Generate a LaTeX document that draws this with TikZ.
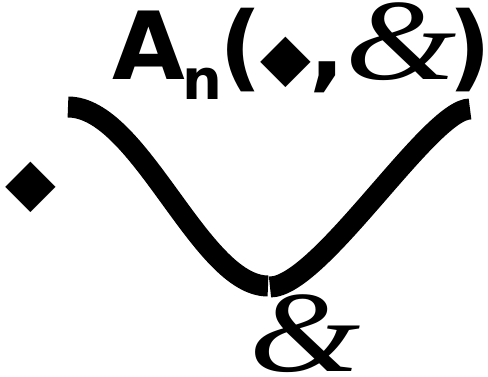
\documentclass[tikz,border=0pt]{standalone}
\usepackage{fontspec}
\newfontfamily\titlefont{DejaVu Sans}
\newfontfamily\ampfont{Liberation Serif}
\usetikzlibrary{positioning}

\newcommand{\diam}[1]{{\titlefont\mdseries\fontsize{#1}{#1}\selectfont ◆}}
\newcommand{\amp}[1]{\scalebox{1.3}[1.05]{\ampfont\mdseries\itshape\fontsize{#1}{#1}\selectfont \&}}

\tikzset{
  cup/.style={line width=21pt, line cap=butt},
  lbl/.style={inner sep=0pt, outer sep=0pt},
}

\begin{document}
\begin{tikzpicture}[x=1pt,y=-1pt]
\useasboundingbox (0,0) rectangle (488,377);

% labels
\node[lbl, anchor=base west] (title) at (112,80)
  {\titlefont\fontsize{94}{100}\selectfont\bfseries A\kern-2pt\raisebox{-20pt}{\fontsize{56}{56}\selectfont n}\kern-3pt(\kern-2pt\diam{66}\kern-2pt,\amp{110}\kern-8pt)};
\node[lbl] (left) at (31,187) {\diam{66}};
\node[lbl, anchor=north] (bottom) at (305,295) {\amp{110}};

% the cup
\coordinate (cupL) at (68,107);
\coordinate (cupML) at (268,286);
\coordinate (cupMR) at (270,287);
\coordinate (cupR) at (470,109);

\draw[cup] (cupL) .. controls (140,107) and (200,286) .. (cupML);
\draw[cup] (cupMR) .. controls (320,287) and (430,109) .. (cupR);

\end{tikzpicture}
\end{document}
